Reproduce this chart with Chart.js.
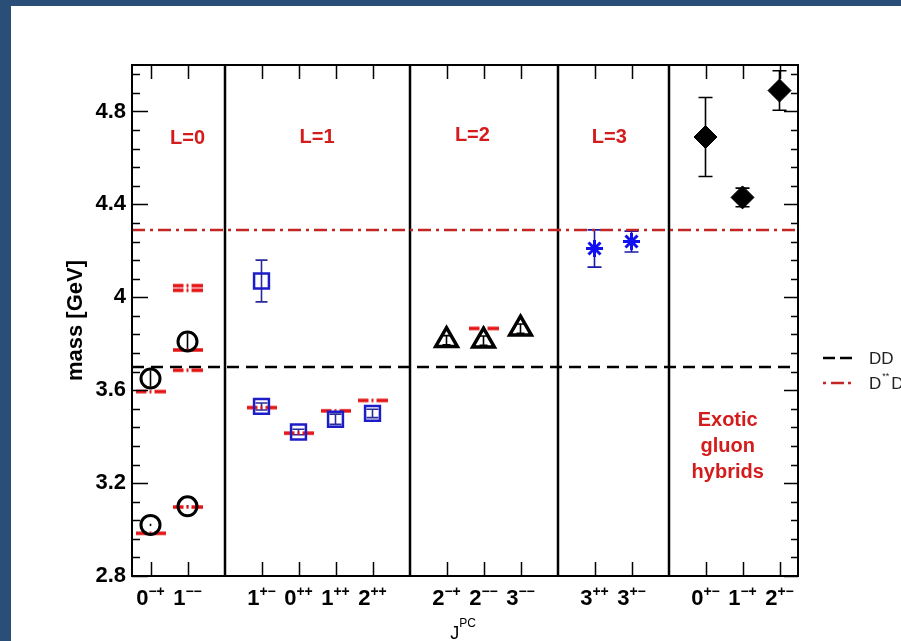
<!DOCTYPE html>
<html>
<head>
<meta charset="utf-8">
<script src="https://cdn.jsdelivr.net/npm/chart.js@4.4.1/dist/chart.umd.min.js"></script>
<style>
  html, body { margin: 0; padding: 0; background: #ffffff; }
  canvas { display: block; }
</style>
</head>
<body>
<canvas id="spectrum" width="901" height="641"></canvas>
<script>
// J^PC channels, one slot each along the horizontal axis
const categories = ['0-+', '1--', '1+-', '0++', '1++', '2++', '2-+', '2--', '3--', '3++', '3+-', '0+-', '1-+', '2+-'];
const slots      = [0.5, 1.5, 3.5, 4.5, 5.5, 6.5, 8.5, 9.5, 10.5, 12.5, 13.5, 15.5, 16.5, 17.5];
const groupEdges = [2.5, 7.5, 11.5, 14.5];
const yTicks     = [2.8, 3.2, 3.6, 4.0, 4.4, 4.8];
const yMinorStep = 0.08;

// lattice masses [GeV] and their errors
const sWaveX    = [0.5, 0.5, 1.5, 1.5];
const sWaveMass = [3.02, 3.65, 3.10, 3.81];
const sWaveErr  = [0.005, 0.035, 0.005, 0.035];

const pWaveX    = [3.5, 3.5, 4.5, 5.5, 6.5];
const pWaveMass = [3.53, 4.07, 3.42, 3.475, 3.50];
const pWaveErr  = [0.015, 0.09, 0.012, 0.022, 0.018];

const dWaveX    = [8.5, 9.5, 10.5];
const dWaveMass = [3.815, 3.813, 3.865];
const dWaveErr  = [0.02, 0.02, 0.02];

const fWaveX    = [12.5, 13.5];
const fWaveMass = [4.21, 4.24];
const fWaveErr  = [0.08, 0.045];

const hybridX    = [15.5, 16.5, 17.5];
const hybridMass = [4.69, 4.43, 4.89];
const hybridErr  = [0.17, 0.04, 0.085];

// measured states [GeV]
const expX    = [0.5, 0.5, 1.5, 1.5, 1.5, 1.5, 1.5, 3.5, 4.5, 5.5, 6.5, 9.5];
const expMass = [2.984, 3.594, 3.097, 3.686, 3.773, 4.030, 4.050, 3.525, 3.415, 3.511, 3.556, 3.866];

// open-charm thresholds [GeV]
const thresholdMass = [3.70, 4.29];

// annotation anchors (data units)
const waveLabels = ['L=0', 'L=1', 'L=2', 'L=3'];
const waveLabelX = [1.5, 5.0, 9.2, 12.9];
const waveLabelY = [4.685, 4.69, 4.697, 4.69];
const hybridText = ['Exotic', 'gluon', 'hybrids'];
const hybridTextX = 16.1;
const hybridTextY = [3.47, 3.358, 3.245];

const RED = '#d41c1c';
const BLUE = '#1c1cc8';

const pts = (xs, ys) => xs.map((x, i) => ({ x: x, y: ys[i] }));

// short dash-dot bar used as marker for the measured states
function expBar() {
  const c = document.createElement('canvas');
  c.width = 30; c.height = 6;
  const g = c.getContext('2d');
  g.strokeStyle = '#e41414';
  g.lineWidth = 3.5;
  g.setLineDash([11, 3, 2, 3]);
  g.beginPath(); g.moveTo(0, 3); g.lineTo(30, 3); g.stroke();
  return c;
}

const FONT = '"Liberation Sans", Arial, Helvetica, sans-serif';

const decor = {
  id: 'decor',
  beforeDraw(chart) {
    const ctx = chart.ctx;
    ctx.save();
    ctx.fillStyle = '#294f79';
    ctx.fillRect(0, 0, chart.width, chart.height);
    ctx.fillStyle = '#ffffff';
    ctx.fillRect(11, 6, chart.width - 11, chart.height - 6);
    ctx.restore();
  },
  beforeDatasetsDraw(chart) {
    const { ctx, chartArea: a, scales: { x, y } } = chart;
    ctx.save();
    // group separators
    ctx.strokeStyle = '#000';
    ctx.lineWidth = 2.5;
    groupEdges.forEach(v => {
      const px = Math.round(x.getPixelForValue(v));
      ctx.beginPath(); ctx.moveTo(px, a.top); ctx.lineTo(px, a.bottom); ctx.stroke();
    });
    // error bars
    chart.data.datasets.forEach(ds => {
      if (!ds.errors) return;
      ctx.strokeStyle = ds.errColor;
      ctx.lineWidth = 1.6;
      ds.data.forEach((p, i) => {
        const px = x.getPixelForValue(p.x);
        const hi = y.getPixelForValue(p.y + ds.errors[i]);
        const lo = y.getPixelForValue(p.y - ds.errors[i]);
        ctx.beginPath();
        ctx.moveTo(px, hi); ctx.lineTo(px, lo);
        if (ds.capHalf) {
          ctx.moveTo(px - ds.capHalf, hi); ctx.lineTo(px + ds.capHalf, hi);
          ctx.moveTo(px - ds.capHalf, lo); ctx.lineTo(px + ds.capHalf, lo);
        }
        ctx.stroke();
      });
    });
    ctx.restore();
  },
  afterDatasetsDraw(chart) {
    const { ctx, chartArea: a, scales: { x, y } } = chart;
    ctx.save();
    // frame
    ctx.strokeStyle = '#000';
    ctx.lineWidth = 2;
    ctx.strokeRect(a.left, a.top, a.right - a.left, a.bottom - a.top);
    // y ticks, inward on both sides
    ctx.lineWidth = 1.5;
    for (let i = 0; y.min + i * yMinorStep <= y.max + 1e-9; i++) {
      const v = y.min + i * yMinorStep;
      const py = Math.round(y.getPixelForValue(v)) + 0.5;
      const major = i % 5 === 0;
      ctx.beginPath();
      ctx.moveTo(a.left, py); ctx.lineTo(a.left + (major ? 16 : 8), py);
      ctx.moveTo(a.right, py); ctx.lineTo(a.right - (major ? 14 : 7), py);
      ctx.stroke();
    }
    // x ticks at every channel, top and bottom
    slots.forEach(v => {
      const px = Math.round(x.getPixelForValue(v)) + 0.5;
      ctx.beginPath();
      ctx.moveTo(px, a.bottom); ctx.lineTo(px, a.bottom - 14);
      ctx.moveTo(px, a.top); ctx.lineTo(px, a.top + 14);
      ctx.stroke();
    });
    // channel labels with P,C as superscripts
    ctx.fillStyle = '#000';
    ctx.textBaseline = 'alphabetic';
    ctx.textAlign = 'left';
    categories.forEach((lab, i) => {
      const base = lab[0];
      const sup = lab.slice(1).replace(/-/g, '\u2212');
      ctx.font = 'bold 22px ' + FONT;
      const wb = ctx.measureText(base).width;
      ctx.font = 'bold 14px ' + FONT;
      const ws = ctx.measureText(sup).width;
      const px = x.getPixelForValue(slots[i]);
      const x0 = px - (wb + ws) / 2;
      ctx.font = 'bold 22px ' + FONT;
      ctx.fillText(base, x0, a.bottom + 29);
      ctx.font = 'bold 14px ' + FONT;
      ctx.fillText(sup, x0 + wb, a.bottom + 20);
    });
    // axis title J^PC
    ctx.font = '18px ' + FONT;
    const wj = ctx.measureText('J').width;
    ctx.font = '12px ' + FONT;
    const wpc = ctx.measureText('PC').width;
    const cx = (a.left + a.right) / 2 - 2;
    const jx = cx - (wj + wpc) / 2;
    ctx.font = '18px ' + FONT;
    ctx.fillText('J', jx, a.bottom + 63);
    ctx.font = '12px ' + FONT;
    ctx.fillText('PC', jx + wj, a.bottom + 51);
    // red annotations
    ctx.fillStyle = RED;
    ctx.textAlign = 'center';
    ctx.textBaseline = 'middle';
    ctx.font = 'bold 20px ' + FONT;
    waveLabels.forEach((t, i) => {
      ctx.fillText(t, x.getPixelForValue(waveLabelX[i]), y.getPixelForValue(waveLabelY[i]));
    });
    hybridText.forEach((t, i) => {
      ctx.fillText(t, x.getPixelForValue(hybridTextX), y.getPixelForValue(hybridTextY[i]));
    });
    // legend for the threshold lines
    const lx = a.right + 25;
    const yDD = y.getPixelForValue(thresholdMass[0]) - 9;
    const yDs = yDD + 25;
    ctx.lineWidth = 2.5;
    ctx.strokeStyle = '#000';
    ctx.setLineDash([12, 5]);
    ctx.beginPath(); ctx.moveTo(lx, yDD); ctx.lineTo(lx + 29, yDD); ctx.stroke();
    ctx.strokeStyle = '#c42626';
    ctx.setLineDash([3, 5, 13, 4, 3, 50]);
    ctx.beginPath(); ctx.moveTo(lx, yDs); ctx.lineTo(lx + 29, yDs); ctx.stroke();
    ctx.setLineDash([]);
    ctx.fillStyle = '#222';
    ctx.textAlign = 'left';
    ctx.textBaseline = 'middle';
    ctx.font = '17px ' + FONT;
    const tx = lx + 46;
    ctx.fillText('DD', tx, yDD + 1);
    ctx.fillText('D', tx, yDs + 1);
    const wd = ctx.measureText('D').width;
    ctx.font = '9px ' + FONT;
    ctx.fillText('**', tx + wd + 1, yDs - 6);
    const wst = ctx.measureText('**').width;
    ctx.font = '17px ' + FONT;
    ctx.fillText('D', tx + wd + wst + 3, yDs + 1);
    ctx.restore();
  }
};

const hline = (v, color, dash) => ({
  type: 'line',
  data: [{ x: 0, y: v }, { x: 18, y: v }],
  borderColor: color,
  borderWidth: 2.5,
  borderDash: dash,
  pointRadius: 0,
  fill: false,
  order: 10
});

new Chart(document.getElementById('spectrum'), {
  type: 'scatter',
  data: {
    datasets: [
      hline(thresholdMass[0], '#000000', [12, 7]),
      hline(thresholdMass[1], '#c42626', [13, 5, 3, 5]),
      {
        data: pts(expX, expMass),
        pointStyle: expBar(),
        pointRadius: 15,
        order: 5
      },
      {
        data: pts(sWaveX, sWaveMass), errors: sWaveErr, errColor: '#000', capHalf: 0,
        pointStyle: 'circle', pointRadius: 9.5, borderWidth: 3,
        borderColor: '#000', backgroundColor: 'rgba(0,0,0,0)', order: 1
      },
      {
        data: pts(pWaveX, pWaveMass), errors: pWaveErr, errColor: '#2a2a9a', capHalf: 6,
        pointStyle: 'rect', pointRadius: 10.5, borderWidth: 2.5,
        borderColor: BLUE, backgroundColor: 'rgba(0,0,0,0)', order: 1
      },
      {
        data: pts(dWaveX, dWaveMass), errors: dWaveErr, errColor: '#000', capHalf: 4,
        pointStyle: 'triangle', pointRadius: 12.5, borderWidth: 3.5,
        borderColor: '#000', backgroundColor: 'rgba(0,0,0,0)', order: 1
      },
      {
        data: pts(fWaveX, fWaveMass), errors: fWaveErr, errColor: '#1a1aa8', capHalf: 7,
        pointStyle: 'star', pointRadius: 8.5, borderWidth: 3,
        borderColor: '#1010f0', backgroundColor: '#1010f0', order: 1
      },
      {
        data: pts(hybridX, hybridMass), errors: hybridErr, errColor: '#000', capHalf: 7,
        pointStyle: 'rectRot', pointRadius: 11.5, borderWidth: 1,
        borderColor: '#000', backgroundColor: '#000', order: 1
      }
    ]
  },
  options: {
    responsive: false,
    animation: false,
    events: [],
    layout: { padding: { left: 0, top: 65, right: 103, bottom: 0 } },
    plugins: { legend: { display: false }, tooltip: { enabled: false } },
    scales: {
      x: {
        type: 'linear', min: 0, max: 18,
        grid: { display: false, drawTicks: false },
        border: { display: false },
        ticks: { display: false },
        afterFit: s => { s.height = 65; }
      },
      y: {
        type: 'linear', min: 2.8, max: 5.0,
        afterBuildTicks: s => { s.ticks = yTicks.map(v => ({ value: v })); },
        grid: { display: false, drawTicks: false },
        border: { display: false },
        ticks: {
          color: '#000', padding: 6,
          font: { family: FONT, size: 22, weight: 'bold' },
          callback: v => String(v)
        },
        title: {
          display: true, text: 'mass [GeV]', color: '#000',
          font: { family: FONT, size: 22, weight: 'bold' },
          padding: { top: 63, bottom: 0 }
        },
        afterFit: s => { s.width = 132; }
      }
    }
  },
  plugins: [decor]
});
</script>
</body>
</html>
